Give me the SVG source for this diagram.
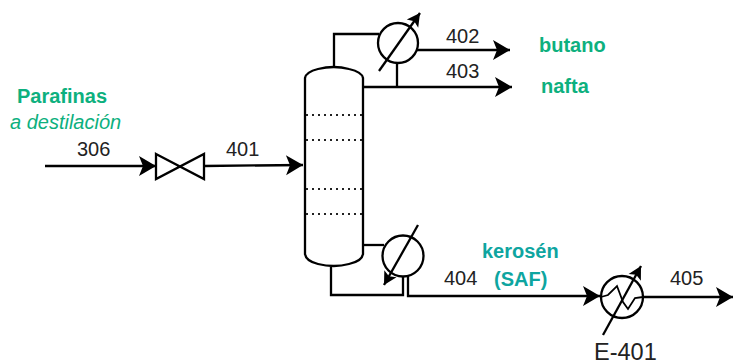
<svg xmlns="http://www.w3.org/2000/svg" width="733" height="363" viewBox="0 0 733 363">
<style>
.l{fill:none;stroke:#000;stroke-width:2.300}
.t{font-family:"Liberation Sans",Arial,sans-serif;font-size:20px;fill:#222}
.g{font-family:"Liberation Sans",Arial,sans-serif;font-size:20px;font-weight:bold;fill:#0db07e}
.c{font-family:"Liberation Sans",Arial,sans-serif;font-size:20px;font-weight:bold;fill:#0ea5a0}
.d{stroke:#222;stroke-width:2;stroke-dasharray:2 4;fill:none}
.s{fill:#fff;stroke:#000;stroke-width:2.300}
</style>
<defs>
<marker id="a" markerUnits="userSpaceOnUse" markerWidth="20" markerHeight="22" refX="18" refY="11" orient="auto"><path d="M1 1L18 11L1 21L5 11Z" fill="#000"/></marker>
<marker id="b" markerUnits="userSpaceOnUse" markerWidth="16" markerHeight="16" refX="14" refY="8" orient="auto"><path d="M1 1L14 8L1 15L4 8Z" fill="#000"/></marker>
</defs>
<g id="connectors">
<path class="l" d="M45 166H156" marker-end="url(#a)"/>
<path class="l" d="M204 166L303 165" marker-end="url(#a)"/>
<path class="l" d="M334 66V34H379"/>
<path class="l" d="M417 50H510" marker-end="url(#a)"/>
<path class="l" d="M363 87H512" marker-end="url(#a)"/>
<path class="l" d="M397 64V87"/>
<path class="l" d="M363 245H384"/>
<path class="l" d="M331 267V295H403V276"/>
<path class="l" d="M408 276V296H600" marker-end="url(#a)"/>
<path class="l" d="M644 297H733" marker-end="url(#a)"/>
</g>
<g id="valve"><path class="s" d="M156 154L204 179V154L156 179Z"/></g>
<g id="column">
<path class="l" d="M305 78Q306 72 318 69Q334 65 349 69Q362 72 363 78V254Q362 261 349 264Q334 268 318 264Q306 261 305 254Z"/>
<path class="d" d="M306 115H362M306 140H362M306 189H362M306 214H362"/>
</g>
<g id="condenser">
<circle class="s" cx="398" cy="43" r="20"/>
<path class="l" d="M379 71L420 13" marker-end="url(#b)"/>
</g>
<g id="reboiler">
<circle class="s" cx="403" cy="256" r="20.500"/>
<path class="l" d="M418 225L384 285" marker-end="url(#b)"/>
</g>
<g id="E-401">
<circle class="s" cx="622" cy="297" r="21"/>
<path class="l" d="M601 297L608 295L617 286L623 302L628 309L635 298L643 297" style="stroke-width:1.800"/>
<path class="l" d="M603 335L641 266" marker-end="url(#b)"/>
<text class="t" x="594" y="360" style="font-size:23.500px">E-401</text>
</g>
<g id="labels">
<text class="g" x="17" y="103">Parafinas</text>
<text class="g" x="10" y="129" style="font-weight:normal;font-style:italic">a destilación</text>
<text class="t" x="77" y="156">306</text>
<text class="t" x="226" y="156">401</text>
<text class="t" x="446" y="43">402</text>
<text class="t" x="446" y="78">403</text>
<text class="t" x="444" y="285">404</text>
<text class="t" x="670" y="285">405</text>
<text class="g" x="539" y="52">butano</text>
<text class="g" x="541" y="93">nafta</text>
<text class="c" x="482" y="258">kerosén</text>
<text class="c" x="494" y="286">(SAF)</text>
</g>
</svg>
